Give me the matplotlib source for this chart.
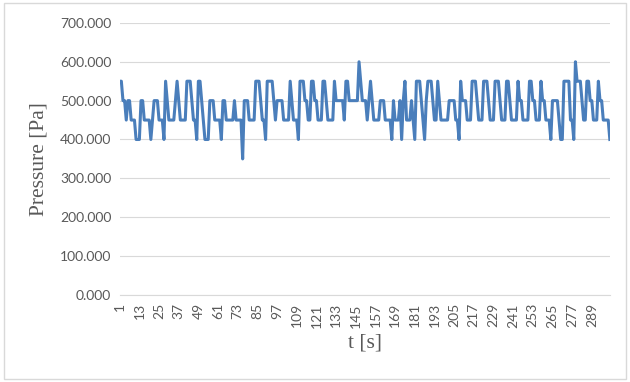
import matplotlib
matplotlib.use("Agg")
import matplotlib.pyplot as plt
from matplotlib.patches import Rectangle

# pressure readings, one per second
pressure = [
    550, 550, 500, 500, 450, 500, 500, 450, 450, 450,
    400, 400, 400, 500, 500, 450, 450, 450, 450, 400,
    450, 500, 500, 500, 450, 450, 450, 400, 550, 500,
    450, 450, 450, 450, 500, 550, 500, 450, 450, 450,
    450, 550, 550, 550, 500, 450, 450, 400, 550, 550,
    500, 450, 400, 400, 400, 500, 500, 500, 450, 450,
    450, 450, 400, 500, 500, 450, 450, 450, 450, 450,
    500, 450, 450, 450, 450, 350, 500, 500, 500, 450,
    450, 450, 450, 550, 550, 550, 500, 450, 450, 400,
    550, 550, 550, 550, 500, 450, 500, 500, 500, 500,
    450, 450, 450, 450, 550, 500, 450, 450, 450, 400,
    550, 550, 550, 500, 500, 450, 450, 550, 550, 500,
    500, 450, 450, 450, 550, 550, 500, 450, 450, 450,
    450, 550, 500, 500, 500, 500, 500, 450, 550, 550,
    500, 500, 500, 500, 500, 500, 600, 550, 500, 500,
    500, 450, 500, 550, 500, 450, 450, 450, 450, 500,
    500, 500, 450, 450, 450, 450, 400, 500, 450, 450,
    450, 500, 400, 500, 550, 450, 450, 450, 500, 450,
    400, 550, 550, 550, 500, 450, 400, 500, 550, 550,
    550, 500, 450, 450, 550, 500, 450, 450, 450, 450,
    450, 500, 500, 500, 500, 450, 450, 400, 550, 500,
    500, 500, 450, 450, 450, 550, 550, 550, 500, 450,
    450, 450, 550, 550, 550, 500, 450, 450, 450, 550,
    550, 550, 500, 450, 450, 450, 550, 550, 500, 450,
    450, 450, 450, 550, 500, 500, 450, 450, 450, 450,
    550, 550, 500, 500, 450, 450, 450, 550, 500, 500,
    450, 450, 450, 400, 500, 500, 500, 500, 450, 400,
    400, 550, 550, 550, 550, 450, 450, 400, 600, 550,
    550, 550, 500, 450, 450, 550, 550, 500, 500, 450,
    450, 450, 550, 500, 500, 450, 450, 450, 450, 400,
]
t = list(range(1, len(pressure) + 1))
x_ticks = list(range(1, 290, 12))
y_ticks = [0, 100, 200, 300, 400, 500, 600, 700]

label_color = "#595959"
grid_color = "#D9D9D9"

fig = plt.figure(figsize=(6.3, 3.82), dpi=100)
ax = fig.add_axes([0.190, 0.228, 0.778, 0.712])

ax.plot(t, pressure, color="#4A7EBB", linewidth=2.2, solid_joinstyle="round")

ax.set_xlim(1, len(pressure))
ax.set_ylim(0, 700)
ax.set_yticks(y_ticks)
ax.set_yticklabels([f"{v:.3f}" for v in y_ticks], fontsize=10, color=label_color, family="Lato")
ax.set_xticks(x_ticks)
ax.set_xticklabels([str(v) for v in x_ticks], rotation=90, fontsize=10, color=label_color, family="Lato")
ax.tick_params(length=0, pad=6)

ax.grid(True, axis="y", color=grid_color, linewidth=0.8)
ax.set_axisbelow(True)
for side in ["top", "right", "left"]:
    ax.spines[side].set_visible(False)
ax.spines["bottom"].set_color(grid_color)
ax.spines["bottom"].set_linewidth(0.8)

ax.set_ylabel("Pressure [Pa]", fontsize=15.5, family="Liberation Serif", color=label_color, labelpad=8)
ax.set_xlabel("t [s]", fontsize=15.5, family="Liberation Serif", color=label_color, labelpad=4)

# chart area border
fig.patches.append(Rectangle((0.006, 0.008), 0.988, 0.984, transform=fig.transFigure,
                             fill=False, edgecolor=grid_color, linewidth=1.0))

fig.savefig("out.png", dpi=100)
